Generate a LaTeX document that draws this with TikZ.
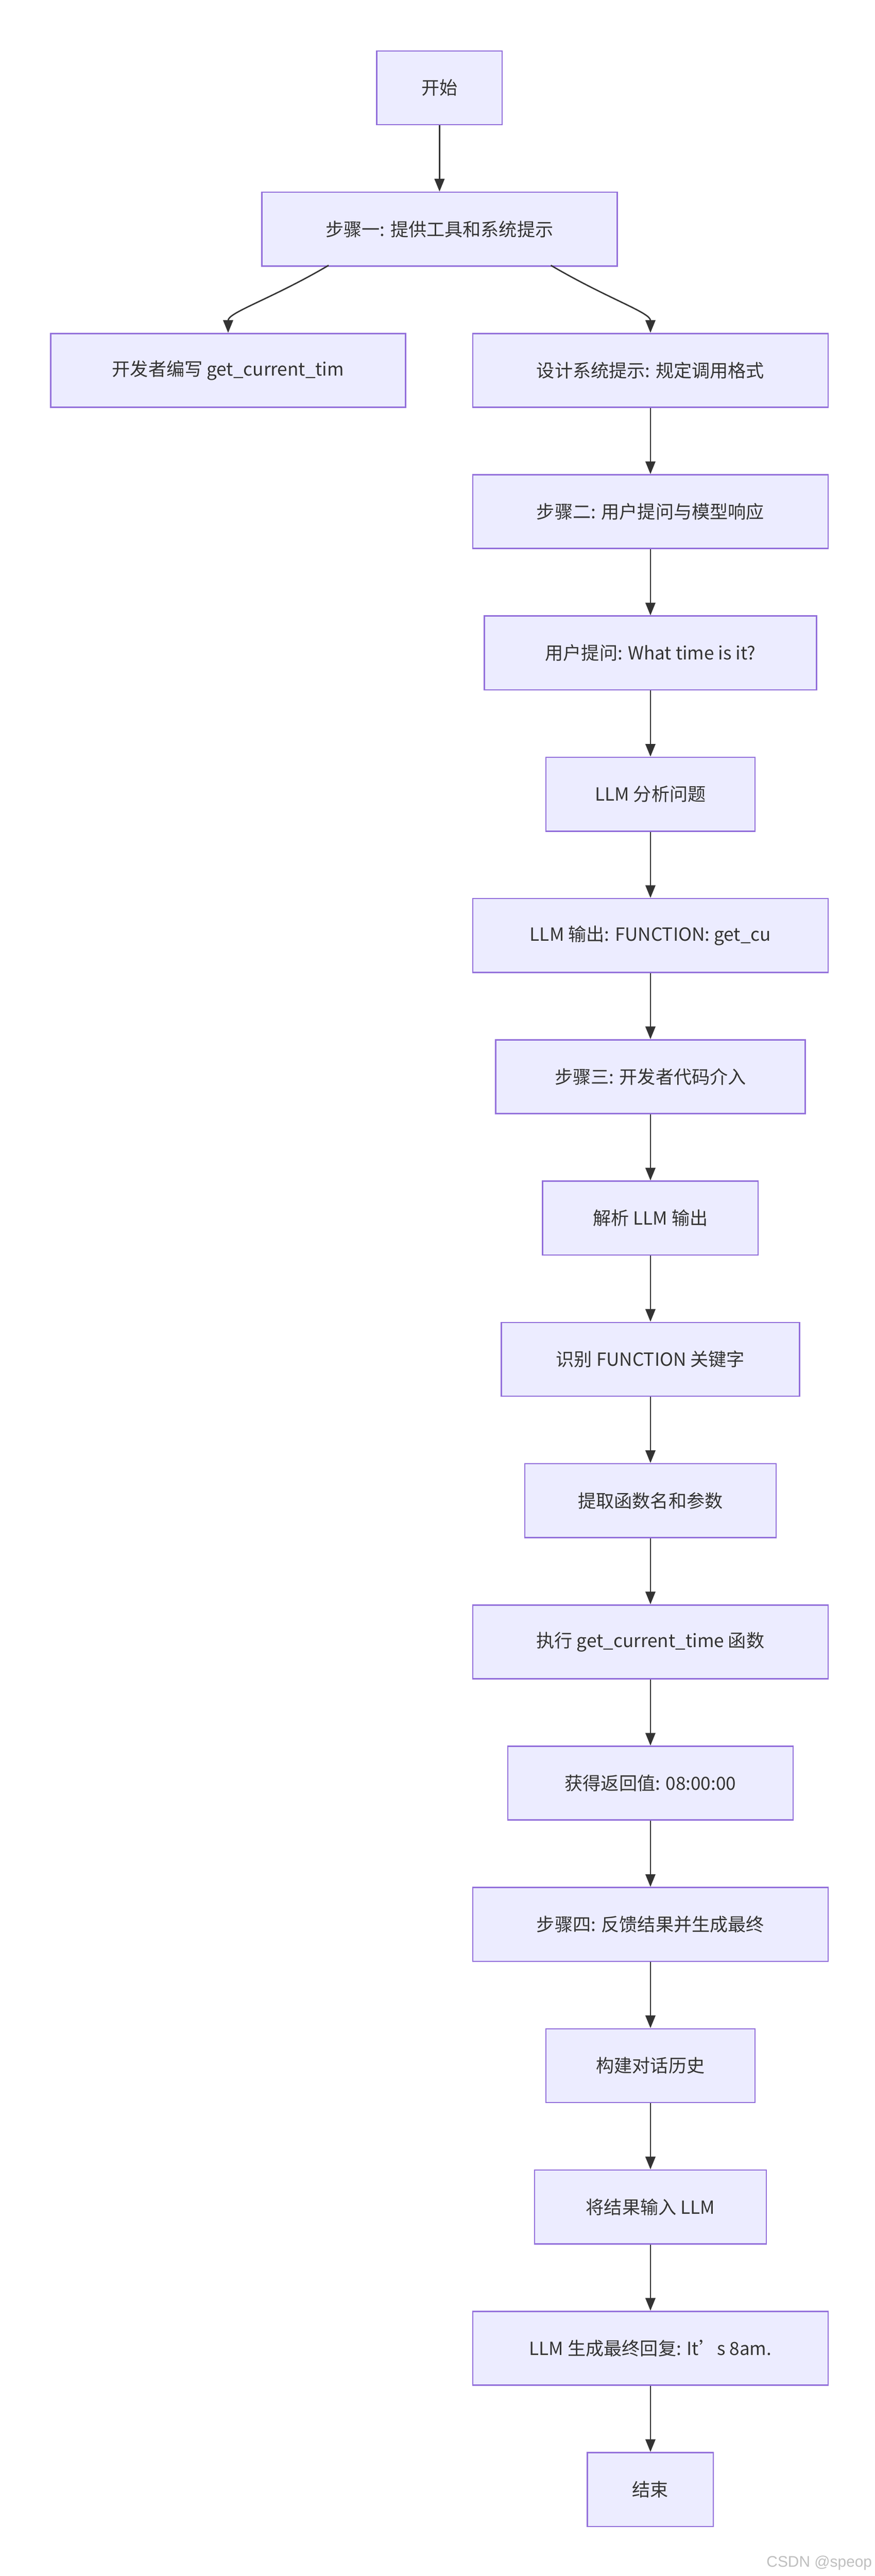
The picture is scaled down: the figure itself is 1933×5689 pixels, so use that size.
\documentclass[tikz,border=0pt]{standalone}
\usepackage{fontspec}
\setmainfont{Noto Sans CJK SC}
\newfontfamily\wm{Liberation Sans}
\usetikzlibrary{arrows.meta}
\definecolor{nfill}{HTML}{ECECFF}
\definecolor{nborder}{HTML}{9370DB}
\definecolor{edge}{HTML}{333333}
\tikzset{
 box/.style={draw=nborder,fill=nfill,line width=3pt,minimum height=163pt,inner sep=0pt,font=\fontsize{40}{48}\selectfont,text=edge,anchor=north},
 arr/.style={draw=edge,line width=3pt,-{Triangle[length=28pt,width=22pt]}}
}
\begin{document}
\begin{tikzpicture}[x=1pt,y=-1pt]
\useasboundingbox[fill=white] (0,0) rectangle (1933,5689);
\def\rx{1437}
\node[box,minimum width=277pt] (n0) at (971,111) {开始};
\node[box,minimum width=785pt] (n1) at (971,423) {步骤一: 提供工具和系统提示};
\node[box,minimum width=784pt] (nL) at (504,735) {开发者编写 get\_current\_tim};
\node[box,minimum width=785pt] (n2) at (\rx,735) {设计系统提示: 规定调用格式};
\node[box,minimum width=785pt] (n3) at (\rx,1047) {步骤二: 用户提问与模型响应};
\node[box,minimum width=734pt] (n4) at (\rx,1359) {用户提问: What time is it?};
\node[box,minimum width=462pt] (n5) at (\rx,1671) {LLM 分析问题};
\node[box,minimum width=785pt] (n6) at (\rx,1983) {LLM 输出: FUNCTION: get\_cu};
\node[box,minimum width=684pt] (n7) at (\rx,2295) {步骤三: 开发者代码介入};
\node[box,minimum width=476pt] (n8) at (\rx,2607) {解析 LLM 输出};
\node[box,minimum width=659pt] (n9) at (\rx,2919) {识别 FUNCTION 关键字};
\node[box,minimum width=555pt] (n10) at (\rx,3231) {提取函数名和参数};
\node[box,minimum width=785pt] (n11) at (\rx,3543) {执行 get\_current\_time 函数};
\node[box,minimum width=630pt] (n12) at (\rx,3855) {获得返回值: 08:00:00};
\node[box,minimum width=785pt] (n13) at (\rx,4167) {步骤四: 反馈结果并生成最终};
\node[box,minimum width=462pt] (n14) at (\rx,4479) {构建对话历史};
\node[box,minimum width=512pt] (n15) at (\rx,4791) {将结果输入 LLM};
\node[box,minimum width=785pt] (n16) at (\rx,5103) {LLM 生成最终回复: It's 8am.};
\node[box,minimum width=278pt] (n17) at (\rx,5415) {结束};
\draw[arr] (n0.south) -- (n1.north);
\coordinate (a1) at (726,586);
\coordinate (a2) at (1217,586);
\draw[arr] (a1) .. controls (600,660) and (504,690) .. (nL.north);
\draw[arr] (a2) .. controls (1343,660) and (1437,690) .. (n2.north);
\foreach \a/\b in {n2/n3,n3/n4,n4/n5,n5/n6,n6/n7,n7/n8,n8/n9,n9/n10,n10/n11,n11/n12,n12/n13,n13/n14,n14/n15,n15/n16,n16/n17}
 \draw[arr] (\a.south) -- (\b.north);
\node[font=\wm\fontsize{34}{40}\selectfont,text=black!25,anchor=east] (wm) at (1930,5660) {CSDN @speop};
\end{tikzpicture}
\end{document}
